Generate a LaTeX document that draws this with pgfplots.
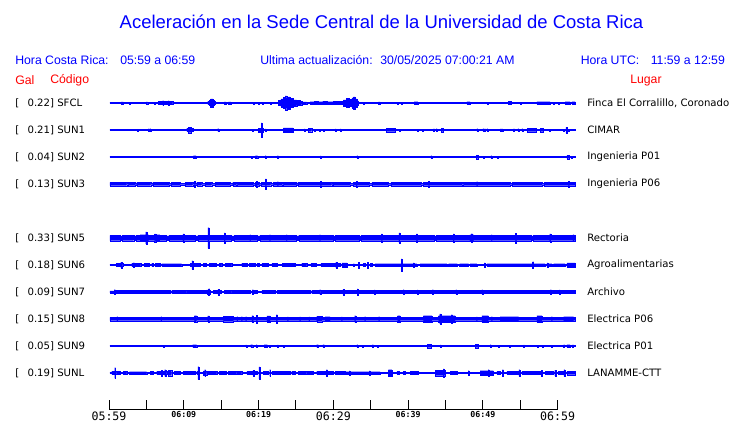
\documentclass[border=0pt]{standalone}
\usepackage{fontspec}
\setmainfont{Liberation Sans}
\newfontfamily\dv{DejaVu Sans}
\newfontfamily\dvm{DejaVu Sans Mono}
\usepackage{pgfplots}
\usepackage{pgfplotstable}
\pgfplotsset{compat=1.18}
\usepgfplotslibrary{fillbetween}

\pgfplotstableread{
t a
0.13 0.5
1.61 1.0
1.92 0.5
2.72 0.8
2.85 0.5
4.96 1.0
5.18 0.5
6.07 0.8
6.2 0.5
6.61 1.5
7.19 2.3
7.3 1.5
7.95 2.3
8.05 1.5
8.53 0.5
13.2 1.5
13.44 2.5
13.6 4.0
13.9 2.5
14.1 1.5
14.2 0.5
15.4 1.2
15.67 0.5
15.98 1.2
16.3 0.5
19.33 0.8
19.45 0.5
20.0 0.8
20.12 0.5
20.54 0.8
20.66 0.5
21.56 0.8
21.68 0.5
22.68 2.5
23.0 4.0
23.35 5.5
23.57 7.0
23.79 5.0
24.0 6.0
24.24 4.5
24.69 3.0
25.13 2.5
25.58 1.8
25.8 1.2
26.47 0.5
26.92 1.3
27.5 1.6
28.0 1.3
28.6 1.6
29.2 1.3
30.0 1.6
30.6 1.4
31.38 3.0
31.8 4.5
32.2 3.5
32.5 5.0
32.72 6.0
32.95 4.0
33.2 2.0
33.4 0.5
34.06 0.8
34.2 0.5
36.07 1.0
36.3 0.5
38.62 0.8
38.75 0.5
39.15 0.8
39.28 0.5
40.85 1.3
41.34 0.5
47.9 1.3
48.35 0.5
50.67 0.8
50.8 0.5
53.48 1.6
53.8 0.5
55.04 0.8
55.17 0.5
57.28 1.3
59.06 0.5
59.51 0.8
59.64 0.5
60.18 0.8
60.31 0.5
61.07 1.3
61.74 0.5
61.96 1.3
62.41 1.3
}\tSFCL

\pgfplotstableread{
t a
0.13 0.5
3.79 0.7
3.92 0.5
5.27 1.3
5.4 0.5
5.49 1.3
5.62 0.5
10.4 1.5
10.63 2.7
11.0 1.5
11.29 0.5
14.55 1.3
14.7 0.5
19.2 0.8
19.33 0.5
20.0 1.8
20.36 7.0
20.49 1.8
20.67 0.5
20.89 1.0
21.02 0.5
23.35 2.0
24.6 0.5
26.12 1.0
26.25 0.5
26.7 1.7
27.14 0.5
27.5 0.8
27.63 0.5
28.13 0.8
28.26 0.5
28.62 0.8
28.75 0.5
30.27 1.0
30.4 0.5
30.94 1.0
31.07 0.5
37.1 1.7
38.3 0.5
38.88 0.8
39.0 0.5
41.21 0.8
41.34 0.5
41.96 0.8
42.09 0.5
43.44 1.3
43.57 0.5
43.79 1.3
43.92 0.5
44.46 1.7
44.78 0.5
49.24 1.3
49.37 0.5
50.04 1.3
50.17 0.5
50.27 1.3
50.4 0.5
50.58 1.3
50.71 0.5
52.37 1.0
52.72 0.5
54.15 1.3
54.28 0.5
54.73 1.3
54.86 0.5
55.27 1.3
55.4 0.5
56.03 1.7
57.19 0.5
57.72 1.7
58.17 0.5
58.97 0.8
59.1 0.5
60.85 0.8
60.98 0.5
61.16 2.7
61.29 0.5
61.43 0.8
61.56 0.5
62.41 0.5
}\tSUNa

\pgfplotstableread{
t a
0.13 0.5
11.29 1.3
11.65 0.5
18.97 0.8
19.1 0.5
19.6 1.3
19.9 0.5
20.89 1.3
21.02 0.5
22.54 1.3
22.67 0.5
28.26 1.0
28.39 0.5
33.17 1.3
33.3 0.5
43.08 1.3
43.21 0.5
49.15 1.7
49.38 0.5
50.13 0.8
50.26 0.5
51.12 1.3
51.25 0.5
52.01 0.8
52.14 0.5
61.29 1.7
61.56 0.5
61.92 0.8
62.05 0.5
62.41 0.5
}\tSUNb

\pgfplotstableread{
t a
0.13 1.7
2.37 0.7
2.59 1.7
3.48 0.7
3.71 1.7
5.58 0.7
5.85 1.7
8.04 0.7
8.30 1.7
9.51 0.7
10.18 1.7
11.21 0.7
11.43 2.7
11.56 0.7
11.74 1.7
12.41 0.7
12.86 1.7
13.75 0.7
14.20 1.7
16.21 0.7
16.56 1.7
17.01 0.7
17.19 1.7
19.33 0.7
19.55 1.7
19.69 2.7
19.82 1.7
20.13 0.7
20.36 1.7
20.92 5.0
21.05 1.7
21.65 0.7
22.01 1.7
22.54 2.3
22.67 1.7
23.13 0.7
23.35 1.7
25.1 0.7
25.25 1.7
28.3 2.7
28.43 1.7
29.8 0.7
29.95 1.7
32.28 0.7
32.72 1.7
33.08 2.7
33.21 1.7
34.87 0.7
35.18 1.7
37.41 0.7
37.72 1.7
41.79 0.7
42.10 1.7
42.77 2.7
42.9 1.7
47.23 0.7
47.46 1.7
49.2 2.3
49.33 1.7
53.71 0.7
53.93 1.7
57.95 0.7
58.26 1.7
61.5 2.7
61.63 1.7
62.41 1.7
}\tSUNc

\pgfplotstableread{
t a
0.13 2.7
1.5 2.0
1.8 2.7
3.3 2.0
3.6 2.7
4.15 3.3
4.9 6.0
5.05 3.3
5.3 2.7
6.1 4.0
6.25 3.3
6.8 2.7
7.7 2.0
8.0 2.7
9.9 4.0
10.05 2.7
11.5 2.0
11.9 2.7
13.25 10.3
13.4 2.7
15.4 5.0
15.55 2.7
16.4 2.0
16.8 2.7
18.85 3.3
18.95 2.7
19.8 2.0
20.2 2.7
21.5 3.3
21.6 2.7
23.75 3.3
23.85 2.7
25.0 2.0
25.4 2.7
28.2 3.3
28.3 2.7
30.0 2.0
30.3 2.7
33.5 2.0
33.8 2.7
36.45 4.0
36.6 2.7
38.8 5.0
38.95 2.7
41.15 4.0
41.3 2.7
43.5 2.0
43.8 2.7
46.05 4.0
46.2 2.7
48.3 3.3
48.5 4.3
48.65 3.3
48.8 2.7
51.2 3.3
51.3 2.7
54.4 4.7
54.55 2.7
56.5 2.0
56.8 2.7
59.0 4.0
59.15 2.7
62.1 3.3
62.25 2.7
62.41 2.7
}\tSUNe

\pgfplotstableread{
t a
0.13 0.5
0.94 1.5
1.56 2.7
1.69 1.5
1.83 0.5
3.04 1.5
3.26 2.3
3.39 1.5
4.24 0.5
4.69 1.5
5.40 0.5
5.71 1.5
5.94 0.5
6.16 1.5
6.83 0.5
7.05 1.3
9.73 0.5
10.85 1.5
11.08 4.3
11.21 1.5
11.29 0.5
11.43 1.5
12.19 0.5
12.63 1.5
12.99 0.5
13.44 1.5
14.33 0.5
14.78 1.5
15.09 0.5
15.54 1.5
16.43 0.5
17.77 1.5
18.44 0.5
18.79 1.5
19.55 0.5
19.78 1.5
20.13 0.5
20.45 1.5
21.34 0.5
21.79 1.5
22.46 0.5
23.21 1.5
24.91 0.5
25.80 1.5
26.47 0.5
27.01 1.5
27.72 0.5
28.35 1.5
30.35 2.7
30.48 1.5
30.94 0.5
31.16 2.0
31.83 0.5
32.72 1.3
32.85 0.5
33.39 2.7
33.52 0.5
34.06 1.5
34.29 0.5
34.60 2.7
34.73 0.5
34.96 1.5
35.18 0.5
35.63 1.3
39.1 6.0
39.23 1.3
40.7 2.0
40.83 1.3
41.21 0.5
41.65 1.3
45.22 0.5
45.45 1.3
46.65 0.5
46.92 1.3
48.13 0.5
48.35 1.3
49.24 0.5
50.22 2.0
50.35 0.5
50.58 1.3
56.61 0.5
56.70 3.3
56.83 1.3
58.39 0.5
58.62 2.0
58.75 0.5
58.84 1.3
59.29 0.5
59.51 1.3
61.07 0.5
61.29 2.0
62.41 2.0
}\tSUNf

\pgfplotstableread{
t a
0.13 1.0
0.70 2.3
0.85 1.6
3.48 0.6
3.62 1.6
6.83 0.6
6.96 1.6
8.17 0.6
8.39 1.6
10.40 0.6
10.63 1.6
13.08 2.0
13.33 3.3
13.46 2.0
13.53 0.6
13.97 1.6
14.58 2.7
14.71 1.6
14.96 0.6
15.40 1.6
16.43 0.6
16.65 1.6
18.88 0.6
19.11 1.6
19.2 2.3
19.33 1.6
19.78 0.6
20.45 1.6
22.23 0.6
22.46 1.6
26.92 0.6
27.14 1.6
28.2 2.3
28.33 0.6
28.48 1.6
31.32 2.7
31.45 1.6
33.2 3.0
33.33 1.6
35.5 2.0
35.63 1.6
39.38 2.3
39.51 1.6
41.25 2.0
41.38 1.6
43.3 2.3
43.43 1.6
44.3 0.6
44.45 1.6
46.42 2.3
46.55 1.6
49.9 2.3
50.03 1.6
52.6 0.6
52.75 1.6
59.1 2.3
59.23 1.6
60.26 2.0
60.39 1.6
62.41 1.6
}\tSUNg

\pgfplotstableread{
t a
0.13 1.7
1.06 2.3
1.19 1.7
6.95 2.3
7.08 1.7
11.43 3.3
11.74 1.7
13.21 3.0
13.44 1.7
15.31 2.7
16.65 1.7
17.13 2.3
17.26 1.7
17.71 2.3
17.84 1.7
18.29 2.3
18.42 1.7
19.11 3.3
19.33 1.7
19.72 3.7
19.85 1.7
21.12 3.0
21.56 1.7
22.40 4.3
22.53 1.7
23.87 2.0
24.0 1.7
25.52 2.0
25.65 1.7
26.77 2.0
26.9 1.7
27.81 2.7
28.48 1.7
28.93 2.3
29.60 1.7
31.1 2.0
31.23 1.7
32.89 3.3
33.02 1.7
34.23 2.3
34.36 1.7
36.1 2.3
36.23 1.7
38.62 3.3
38.97 1.7
42.10 3.3
43.21 1.7
44.11 3.3
44.27 5.0
44.4 3.3
45.83 4.3
45.96 3.3
46.34 1.7
49.18 2.0
49.31 1.7
49.91 3.3
50.80 1.7
51.19 2.3
51.32 1.7
52.37 2.3
54.82 1.7
57.28 3.3
57.95 1.7
59.23 2.3
59.36 1.7
60.85 2.3
62.19 1.7
62.41 1.7
}\tSUNh

\pgfplotstableread{
t a
0.13 0.5
7.19 0.7
7.32 0.5
11.21 1.3
11.74 0.5
18.30 1.0
18.43 0.5
18.97 1.3
19.24 0.5
19.69 1.3
19.82 0.5
20.76 1.3
21.21 0.5
21.47 0.8
21.6 0.5
22.54 1.0
22.67 0.5
23.26 0.8
23.39 0.5
27.81 1.3
28.04 0.5
28.62 1.3
28.84 0.5
33.17 1.3
33.3 0.5
33.93 0.8
34.06 0.5
35.27 1.3
35.4 0.5
35.94 0.8
36.07 0.5
42.63 1.7
43.08 0.5
44.33 1.0
44.46 0.5
49.02 1.7
49.46 0.5
51.03 1.3
51.16 0.5
52.05 0.8
52.18 0.5
53.62 0.8
53.75 0.5
55.49 1.0
55.62 0.5
57.28 0.8
57.41 0.5
57.95 0.8
58.08 0.5
59.15 0.8
59.28 0.5
60.85 1.3
60.98 0.5
61.29 1.3
61.74 0.5
62.05 1.3
62.18 0.5
62.41 0.5
}\tSUNi

\pgfplotstableread{
t a
0.13 0.5
0.36 1.5
0.75 5.3
0.88 1.5
1.03 0.5
1.25 1.5
1.47 0.5
1.92 1.5
2.37 0.5
2.72 1.3
5.04 0.5
5.49 1.5
5.94 0.5
6.38 1.5
7.0 2.7
7.13 1.5
7.45 3.3
7.58 1.5
7.72 0.5
7.95 2.7
8.39 0.5
8.71 1.5
9.51 0.5
9.96 1.5
11.52 0.5
11.74 1.5
11.9 6.3
12.03 1.5
12.10 0.5
12.63 2.0
12.8 3.3
12.93 2.0
13.08 0.5
13.30 1.5
14.42 0.5
14.78 1.5
15.67 0.5
15.98 1.5
17.10 0.5
17.32 1.5
17.77 0.5
18.44 1.5
19.27 2.7
19.4 1.5
19.78 0.5
20.07 6.0
20.2 0.5
20.67 1.5
21.34 0.5
21.5 3.3
21.63 0.5
21.79 1.5
23.13 0.5
23.35 1.5
24.24 0.5
24.46 1.5
24.91 0.5
25.36 1.5
26.47 0.5
26.70 1.5
27.37 0.5
27.81 1.5
29.1 3.3
29.23 1.5
30.04 0.5
30.27 1.5
31.61 1.3
32.13 2.0
32.26 1.3
34.81 2.0
34.94 1.3
36.29 0.5
37.41 3.3
37.86 0.5
38.53 1.5
38.88 0.5
39.42 1.5
39.64 0.5
40.31 1.5
41.43 0.5
43.66 2.7
44.72 4.0
44.85 2.7
45.00 0.5
45.67 1.5
46.56 0.5
48.07 2.3
48.2 0.5
49.69 2.3
50.74 3.3
50.87 2.3
51.47 0.5
51.92 1.5
52.37 0.5
52.66 3.3
52.79 0.5
53.26 1.5
54.82 1.5
54.88 3.3
55.0 0.5
55.27 1.5
57.72 0.5
57.89 2.7
58.02 0.5
58.39 1.5
59.51 0.5
59.67 2.7
59.8 0.5
60.18 1.5
60.85 1.5
60.9 3.3
61.03 0.5
61.29 1.7
62.41 1.7
}\tSUNl

\definecolor{tblue}{RGB}{0,0,255}
\definecolor{tred}{RGB}{255,0,0}

\newcommand{\trace}[3]{%
\addplot[name path=U#3, draw=none, const plot] table[x=t, y expr=#2+\thisrow{a}] {#1};
\addplot[name path=L#3, draw=none, const plot] table[x=t, y expr=#2-\thisrow{a}] {#1};
\addplot[fill=tblue, draw=tblue, line width=0.15pt] fill between[of=U#3 and L#3];
}

\begin{document}
\begin{tikzpicture}
\begin{axis}[at={(0,0)}, anchor=south west, scale only axis,
  width=555pt, height=317.25pt,
  xmin=-14.592, xmax=84.471, ymin=0, ymax=423,
  hide axis, clip=false]
\trace{\tSFCL}{320}{a}
\trace{\tSUNa}{293}{b}
\trace{\tSUNb}{266}{c}
\trace{\tSUNc}{239}{d}
\trace{\tSUNe}{185}{e}
\trace{\tSUNf}{158}{f}
\trace{\tSUNg}{131}{g}
\trace{\tSUNh}{104}{h}
\trace{\tSUNi}{77}{i}
\trace{\tSUNl}{50}{j}
\end{axis}

\begin{axis}[at={(81.75pt,10.275pt)}, anchor=south west, scale only axis,
  width=336.5pt, height=20pt,
  xmin=0, xmax=60, ymin=0, ymax=1,
  axis x line=bottom, axis y line=none,
  x axis line style={-, line width=0.75pt},
  xtick={0,5,...,60}, tick align=inside, major tick length=6.8pt,
  xtick style={black, line width=0.75pt},
  xticklabels={{\dvm\fontsize{8.7pt}{9pt}\selectfont 05:59},,
    {\dvm\bfseries\fontsize{6.2pt}{7pt}\selectfont 06:09},,
    {\dvm\bfseries\fontsize{6.2pt}{7pt}\selectfont 06:19},,
    {\dvm\fontsize{8.7pt}{9pt}\selectfont 06:29},,
    {\dvm\bfseries\fontsize{6.2pt}{7pt}\selectfont 06:39},,
    {\dvm\bfseries\fontsize{6.2pt}{7pt}\selectfont 06:49},,
    {\dvm\fontsize{8.7pt}{9pt}\selectfont 06:59}},
  xticklabel style={inner sep=1pt, anchor=north, yshift=-0.6pt},
  ]
\addplot[draw=none] coordinates {(0,0) (60,0)};
\end{axis}

\begin{scope}[x=0.75pt, y=0.75pt]
\path[use as bounding box] (0,0) rectangle (740,423);
\node[text=tblue, font=\fontsize{13.85pt}{16pt}\selectfont] at (381.5,401) {Aceleración en la Sede Central de la Universidad de Costa Rica};
\begin{scope}[every node/.style={anchor=west, inner sep=0pt, text=tblue, font=\fontsize{9.2pt}{11pt}\selectfont}]
\node at (15,362.5) {Hora Costa Rica:};
\node at (120,362.5) {05:59 a 06:59};
\node at (260,362.5) {Ultima actualización:};
\node at (380,362.5) {30/05/2025 07:00:21 AM};
\node at (580.5,362.5) {Hora UTC:};
\node at (650.5,362.5) {11:59 a 12:59};
\node[text=tred] at (15,342.5) {Gal};
\node[text=tred] at (50,342.5) {Código};
\node[text=tred] at (630,342.5) {Lugar};
\end{scope}
\begin{scope}[every node/.style={anchor=west, inner sep=0pt, text=black, font=\dv\fontsize{7.6pt}{9pt}\selectfont}]
\foreach \yy/\vv/\cc/\ll in {320/0.22/SFCL/{Finca El Corralillo, Coronado}, 293/0.21/SUN1/CIMAR, 266/0.04/SUN2/Ingenieria P01, 239/0.13/SUN3/Ingenieria P06, 185/0.33/SUN5/Rectoria, 158/0.18/SUN6/Agroalimentarias, 131/0.09/SUN7/Archivo, 104/0.15/SUN8/Electrica P06, 77/0.05/SUN9/Electrica P01, 50/0.19/SUNL/LANAMME-CTT}{
\node at (15,\yy) {[};
\node at (27.3,\yy) {\vv] \cc};
\node at (587,\yy) {\ll};
}
\end{scope}
\end{scope}
\end{tikzpicture}
\end{document}
